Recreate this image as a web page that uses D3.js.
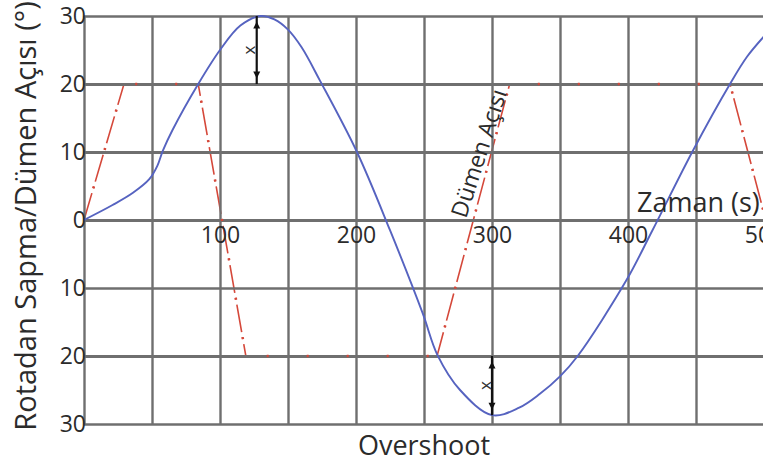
<!DOCTYPE html>
<html>
<head>
<meta charset="utf-8">
<script src="https://cdn.jsdelivr.net/npm/d3@7"></script>
<style>
  html, body { margin: 0; padding: 0; background: #fff; }
  svg { display: block; font-family: "Open Sans", sans-serif; }
</style>
</head>
<body>
<svg id="chart" width="763" height="463"></svg>
<script>
// Time (s) and heading deviation (°) of the vessel
const headingTime  = [0, 21, 36, 48, 54, 58, 65, 84, 100, 115, 130, 140, 150, 160, 173.5, 200.7, 225, 249, 260, 276.5, 300, 320, 335, 350, 363, 399, 418, 448, 475, 487.5, 500];
const headingAngle = [0, 2.2, 4, 6.0, 8.0, 10.2, 13.2, 20, 25, 28.6, 30, 29.5, 28.0, 25.4, 20.5, 10, -1.5, -13.7, -19.9, -25, -28.7, -27.6, -25.6, -23, -20, -8.8, -1.5, 10.3, 20, 24, 27];

// Time (s) and rudder angle (°)
const rudderTime  = [0, 29.4, 84, 119, 259.6, 313, 475, 500];
const rudderAngle = [0, 20, 20, -20, -20, 20, 20, 1];

// Overshoot markers: time, rudder limit, heading extreme
const overshootTime = [127, 300];
const overshootFrom = [20, -20];
const overshootTo   = [30, -28.7];

// Axis ticks
const xGridTicks  = [0, 50, 100, 150, 200, 250, 300, 350, 400, 450, 500];
const xLabelTicks = [100, 200, 300, 400, 500];
const yTicks      = [30, 20, 10, 0, -10, -20, -30];
const yThick      = [20, 10, 0, -20];

const svg = d3.select("#chart");
const x = d3.scaleLinear().domain([0, 500]).range([84, 764]);
const y = d3.scaleLinear().domain([-30, 30]).range([424, 16]);

const gridColor = "#6f6f6f";
const blue = "#5663c0";
const red = "#d5483a";

// Rudder angle dash-dot line (under the grid)
const line = d3.line().x(d => x(d[0])).y(d => y(d[1]));
const rudderPts = rudderTime.map((t, i) => [t, rudderAngle[i]]);
svg.append("path")
  .attr("d", line(rudderPts))
  .attr("fill", "none")
  .attr("stroke", red)
  .attr("stroke-width", 1.6)
  .attr("stroke-dasharray", "28,5,2,5");

// Grid: vertical lines
svg.append("g")
  .attr("transform", `translate(0,${y(-30)})`)
  .call(d3.axisBottom(x).tickValues(xGridTicks).tickSize(-(y(-30) - y(30))).tickFormat(""))
  .call(g => g.select(".domain").remove())
  .call(g => g.selectAll(".tick line").attr("stroke", gridColor).attr("stroke-width", 2.4));

// Grid: horizontal lines
svg.append("g")
  .attr("transform", `translate(${x(0)},0)`)
  .call(d3.axisLeft(y).tickValues(yTicks).tickSize(-(x(500) - x(0))).tickFormat(""))
  .call(g => g.select(".domain").remove())
  .call(g => g.selectAll(".tick line")
    .attr("stroke", gridColor)
    .attr("stroke-width", d => yThick.includes(d) ? 3.2 : 2.4));

// Rudder line dots drawn over the grid
svg.append("path")
  .attr("d", line(rudderPts))
  .attr("fill", "none")
  .attr("stroke", red)
  .attr("stroke-width", 2.6)
  .attr("stroke-dasharray", "0,33,2,5");

// Heading curve
const curve = d3.line().x(d => x(d[0])).y(d => y(d[1])).curve(d3.curveCatmullRom.alpha(0.5));
svg.append("path")
  .attr("d", curve(headingTime.map((t, i) => [t, headingAngle[i]])))
  .attr("fill", "none")
  .attr("stroke", blue)
  .attr("stroke-width", 1.9);

// Y tick labels (absolute values)
svg.append("g")
  .attr("transform", `translate(${x(0) + 2},0)`)
  .call(d3.axisLeft(y).tickValues(yTicks).tickSize(0).tickPadding(0).tickFormat(d => Math.abs(d)))
  .call(g => g.select(".domain").remove())
  .call(g => g.selectAll("text")
    .attr("font-family", "Open Sans, sans-serif")
    .attr("font-size", 23)
    .attr("fill", "#2b2b2b"));

// X tick labels along the zero line
svg.append("g")
  .attr("transform", `translate(0,${y(0)})`)
  .call(d3.axisBottom(x).tickValues(xLabelTicks).tickSize(0).tickPadding(7))
  .call(g => g.select(".domain").remove())
  .call(g => g.selectAll("text")
    .attr("font-family", "Open Sans, sans-serif")
    .attr("font-size", 23)
    .attr("fill", "#2b2b2b"));

// Overshoot arrows
overshootTime.forEach((t, i) => {
  const px = x(t);
  const y1 = y(overshootFrom[i]);
  const y2 = y(overshootTo[i]);
  const top = Math.min(y1, y2), bot = Math.max(y1, y2);
  const g = svg.append("g");
  g.append("line")
    .attr("x1", px).attr("x2", px).attr("y1", top).attr("y2", bot)
    .attr("stroke", "#111").attr("stroke-width", 2.2);
  const inset = 9, h = 7, w = 3.5;
  g.append("path")
    .attr("d", `M${px},${top + inset - h / 2}L${px - w},${top + inset + h / 2}L${px + w},${top + inset + h / 2}Z`)
    .attr("fill", "#111");
  g.append("path")
    .attr("d", `M${px},${bot - inset + h / 2}L${px - w},${bot - inset - h / 2}L${px + w},${bot - inset - h / 2}Z`)
    .attr("fill", "#111");
  g.append("text")
    .attr("transform", `translate(${px - 8},${(top + bot) / 2}) rotate(-90)`)
    .attr("text-anchor", "middle")
    .attr("dominant-baseline", "central")
    .attr("font-size", 17)
    .attr("fill", "#333")
    .text("x");
});

// Rudder line label
svg.append("text")
  .attr("transform", "translate(478,153) rotate(-72)")
  .attr("text-anchor", "middle")
  .attr("dominant-baseline", "central")
  .attr("font-size", 23)
  .attr("fill", "#2b2b2b")
  .text("Dümen Açısı");

// Axis titles
svg.append("text")
  .attr("x", 637).attr("y", 212)
  .attr("font-size", 27)
  .attr("fill", "#2b2b2b")
  .text("Zaman (s)");

svg.append("text")
  .attr("x", 424).attr("y", 455)
  .attr("text-anchor", "middle")
  .attr("font-size", 27)
  .attr("fill", "#2b2b2b")
  .text("Overshoot");

svg.append("text")
  .attr("transform", "translate(36,216) rotate(-90)")
  .attr("text-anchor", "middle")
  .attr("font-size", 29)
  .attr("fill", "#2b2b2b")
  .text("Rotadan Sapma/Dümen Açısı (°)");
</script>
</body>
</html>
